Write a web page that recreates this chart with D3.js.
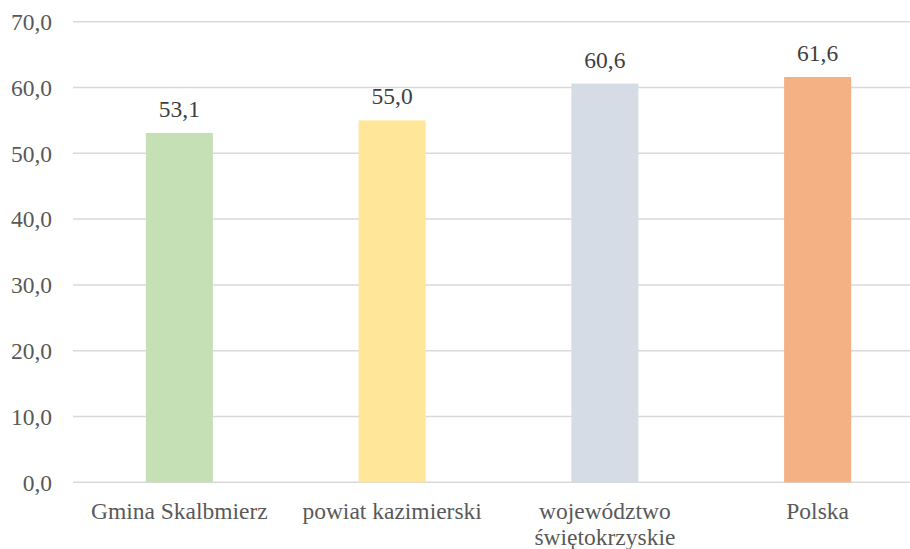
<!DOCTYPE html>
<meta charset="utf-8">
<script src="https://d3js.org/d3.v7.min.js"></script>
<style>
  body { margin: 0; background: #fff; }
</style>
<div id="vis"></div>
<script>

// data
var categories = ["Gmina Skalbmierz", "powiat kazimierski", "województwo świętokrzyskie", "Polska"];
var values = [53.1, 55.0, 60.6, 61.6];
var colors = ["#C5E0B4", "#FFE699", "#D6DCE5", "#F4B183"];
var yTicks = [0, 10, 20, 30, 40, 50, 60, 70];

var width = 910, height = 549;
var font = "'Liberation Serif', 'Times New Roman', Times, 'DejaVu Serif', serif";

var svg = d3.select("#vis")
  .append("svg")
    .attr("width", width)
    .attr("height", height)
    .style("font-family", font);

// scales
var x = d3.scaleBand()
  .domain(categories)
  .range([73, 924])
  .paddingInner(0.685)
  .paddingOuter(0.3425);

var y = d3.scaleLinear()
  .domain([0, 70])
  .range([482.3, 21.7]);

var fmt = function (d) { return d3.format(".1f")(d).replace(".", ","); };

// gridlines
svg.append("g")
  .selectAll("line")
  .data(yTicks)
  .enter()
  .append("line")
    .attr("x1", 73)
    .attr("x2", width)
    .attr("y1", function (d) { return y(d); })
    .attr("y2", function (d) { return y(d); })
    .style("stroke", "#D9D9D9")
    .style("stroke-width", 1.5);

// y axis labels
svg.append("g")
  .selectAll("text")
  .data(yTicks)
  .enter()
  .append("text")
    .attr("x", 52)
    .attr("y", function (d) { return y(d); })
    .attr("dy", "0.35em")
    .attr("font-family", font)
    .style("text-anchor", "end")
    .style("font-size", "23.5px")
    .style("fill", "#595959")
    .text(fmt);

// bars
svg.append("g")
  .selectAll("rect")
  .data(values)
  .enter()
  .append("rect")
    .attr("x", function (d, i) { return x(categories[i]); })
    .attr("width", x.bandwidth())
    .attr("y", function (d) { return y(d); })
    .attr("height", function (d) { return y(0) - y(d); })
    .style("fill", function (d, i) { return colors[i]; });

// value labels
svg.append("g")
  .selectAll("text")
  .data(values)
  .enter()
  .append("text")
    .attr("x", function (d, i) { return x(categories[i]) + x.bandwidth() / 2; })
    .attr("y", function (d) { return y(d) - 16; })
    .attr("font-family", font)
    .style("text-anchor", "middle")
    .style("font-size", "23.5px")
    .style("fill", "#404040")
    .text(fmt);

// category labels (wrapped like the original)
var lines = {
  "województwo świętokrzyskie": ["województwo", "świętokrzyskie"]
};
svg.append("g")
  .selectAll("text")
  .data(categories)
  .enter()
  .append("text")
    .attr("x", function (d) { return x(d) + x.bandwidth() / 2; })
    .attr("y", 519)
    .attr("font-family", font)
    .style("text-anchor", "middle")
    .style("font-size", "23.5px")
    .style("fill", "#595959")
    .each(function (d) {
      var t = d3.select(this);
      var parts = lines[d] || [d];
      parts.forEach(function (p, i) {
        t.append("tspan")
          .attr("x", x(d) + x.bandwidth() / 2)
          .attr("dy", i === 0 ? 0 : 25.5)
          .text(p);
      });
    });

</script>
